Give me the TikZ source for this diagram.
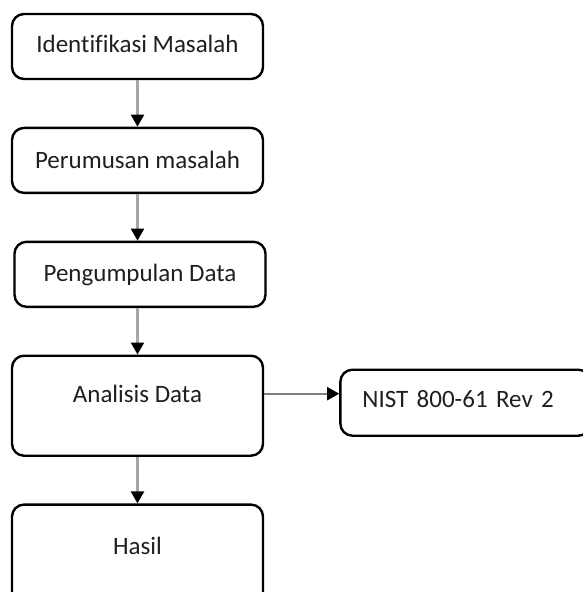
\documentclass[tikz,border=0pt]{standalone}
\usepackage{fontspec}
\setmainfont[Ligatures=NoCommon]{Carlito}
\usetikzlibrary{arrows.meta, positioning}
\definecolor{flowgray}{HTML}{A6A6A6}
\definecolor{sidegray}{HTML}{7F7F7F}
\definecolor{textdark}{HTML}{1F1F1F}

\begin{document}
\begin{tikzpicture}[
    node distance=46.5pt and 75pt,
    box/.style={rectangle, draw=black, line width=2.4pt, rounded corners=12pt,
                minimum width=251pt, inner xsep=0pt, inner ysep=0pt,
                text=textdark, font=\fontsize{25pt}{29pt}\selectfont},
    arrow/.style={-{Triangle[length=12pt, width=13pt, color=black]},
                  line width=2.2pt, color=flowgray},
  ]
  \useasboundingbox (0,0) rectangle (583pt,-592pt);

  % Main column
  \node[box, text height=38pt, text depth=27pt] (ident) at (137.5pt,-46.5pt) {Identifikasi Masalah};
  \node[box, below=of ident, text height=41pt, text depth=24pt] (rumus) {Perumusan masalah};
  \node[box, below=of rumus, xshift=2.5pt, text height=40pt, text depth=25pt] (kumpul) {Pengumpulan Data};
  \node[box, below=of kumpul, xshift=-2.5pt, text height=47pt, text depth=53pt] (analisis) {Analisis Data};
  \node[box, below=of analisis, text height=50pt, text depth=50pt] (hasil) {Hasil};

  % Side box
  \node[box, right=of analisis, yshift=3pt, minimum width=250pt, text width=206pt,
        inner xsep=22pt, align=left, text height=38pt, text depth=28pt] (nist) {NIST 800-61 Rev 2};

  \draw[arrow] (ident) -- (rumus);
  \draw[arrow] (rumus) -- (rumus |- kumpul.north);
  \draw[arrow] (kumpul.south -| rumus) -- (analisis);
  \draw[arrow] (analisis) -- (hasil);
  \draw[arrow, line width=1.8pt, color=sidegray] ([yshift=12pt]analisis.east) -- ([yshift=9pt]nist.west);

\end{tikzpicture}
\end{document}
